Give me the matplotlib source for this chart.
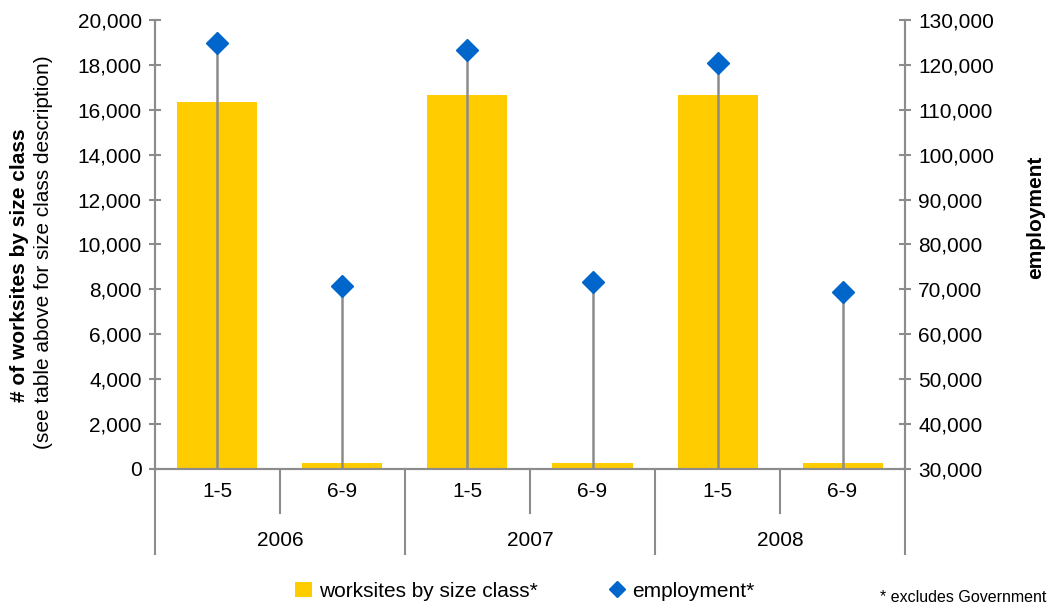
import matplotlib.pyplot as plt
import matplotlib.transforms as mtransforms
from matplotlib.lines import Line2D
from matplotlib.patches import Patch

# --- data ---
years = ['2006', '2007', '2008']
size_classes = ['1-5', '6-9']
worksites = [16350, 250, 16650, 250, 16650, 250]
employment = [124900, 70800, 123300, 71700, 120400, 69400]

plt.rcParams['font.family'] = ['Liberation Sans', 'DejaVu Sans']

gray = '#8c8c8c'
fs = 15
fig = plt.figure(figsize=(10.52, 6.05), dpi=100)
ax = fig.add_axes([0.1473, 0.2248, 0.7130, 0.7422])
ax2 = ax.twinx()

x = list(range(len(worksites)))
ax.bar(x, worksites, width=0.64, color='#FFCC00', zorder=1)
ax.set_xlim(-0.5, len(x) - 0.5)
ax.set_ylim(0, 20000)
ax.set_yticks(range(0, 20001, 2000))
ax.set_yticklabels([f'{v:,}' for v in range(0, 20001, 2000)])

ax2.set_ylim(30000, 130000)
ax2.set_yticks(range(30000, 130001, 10000))
ax2.set_yticklabels([f'{v:,}' for v in range(30000, 130001, 10000)])
ax2.vlines(x, 30000, employment, color=gray, lw=1.8, zorder=2)
ax2.plot(x, employment, 'D', color='#0066CC', markersize=11, zorder=3)

for a in (ax, ax2):
    a.spines['top'].set_visible(False)
    for s in ('left', 'right', 'bottom'):
        a.spines[s].set_color(gray)
        a.spines[s].set_linewidth(1.5)
    a.tick_params(axis='y', direction='inout', length=9, width=1.5, color=gray,
                  labelsize=fs, pad=5)
ax.tick_params(axis='x', bottom=False, labelbottom=False)
ax2.tick_params(axis='x', bottom=False, labelbottom=False)

# multi-level category axis
trans = mtransforms.blended_transform_factory(ax.transData, ax.transAxes)
n = len(size_classes)
for i in range(len(x) + 1):
    xpos = i - 0.5
    depth = -0.19 if i % n == 0 else -0.098
    ax.plot([xpos, xpos], [0, depth], transform=trans, color=gray, lw=1.5,
            clip_on=False)
for i in x:
    ax.text(i, -0.05, size_classes[i % n], transform=trans, ha='center',
            va='center', fontsize=fs)
for j, yr in enumerate(years):
    ax.text(j * n + (n - 1) / 2, -0.16, yr, transform=trans, ha='center',
            va='center', fontsize=fs)

fig.text(0.019, 0.562, '# of worksites by size class', rotation=90, ha='center',
         va='center', fontsize=fs, fontweight='bold')
fig.text(0.041, 0.583, '(see table above for size class description)', rotation=90,
         ha='center', va='center', fontsize=fs)
fig.text(0.984, 0.641, 'employment', rotation=90, ha='center', va='center',
         fontsize=fs, fontweight='bold')

handles = [Patch(facecolor='#FFCC00', edgecolor='none'),
           Line2D([], [], marker='D', color='#0066CC', ls='none', markersize=8)]
fig.legend(handles, ['worksites by size class*', 'employment*'], loc='center',
           bbox_to_anchor=(0.499, 0.023), ncol=2, frameon=False, fontsize=fs,
           handlelength=0.8, handletextpad=0.35, columnspacing=3.4)
fig.text(0.995, 0.012, '* excludes Government', ha='right', va='center', fontsize=11.5)

fig.savefig('out.png', dpi=100)
